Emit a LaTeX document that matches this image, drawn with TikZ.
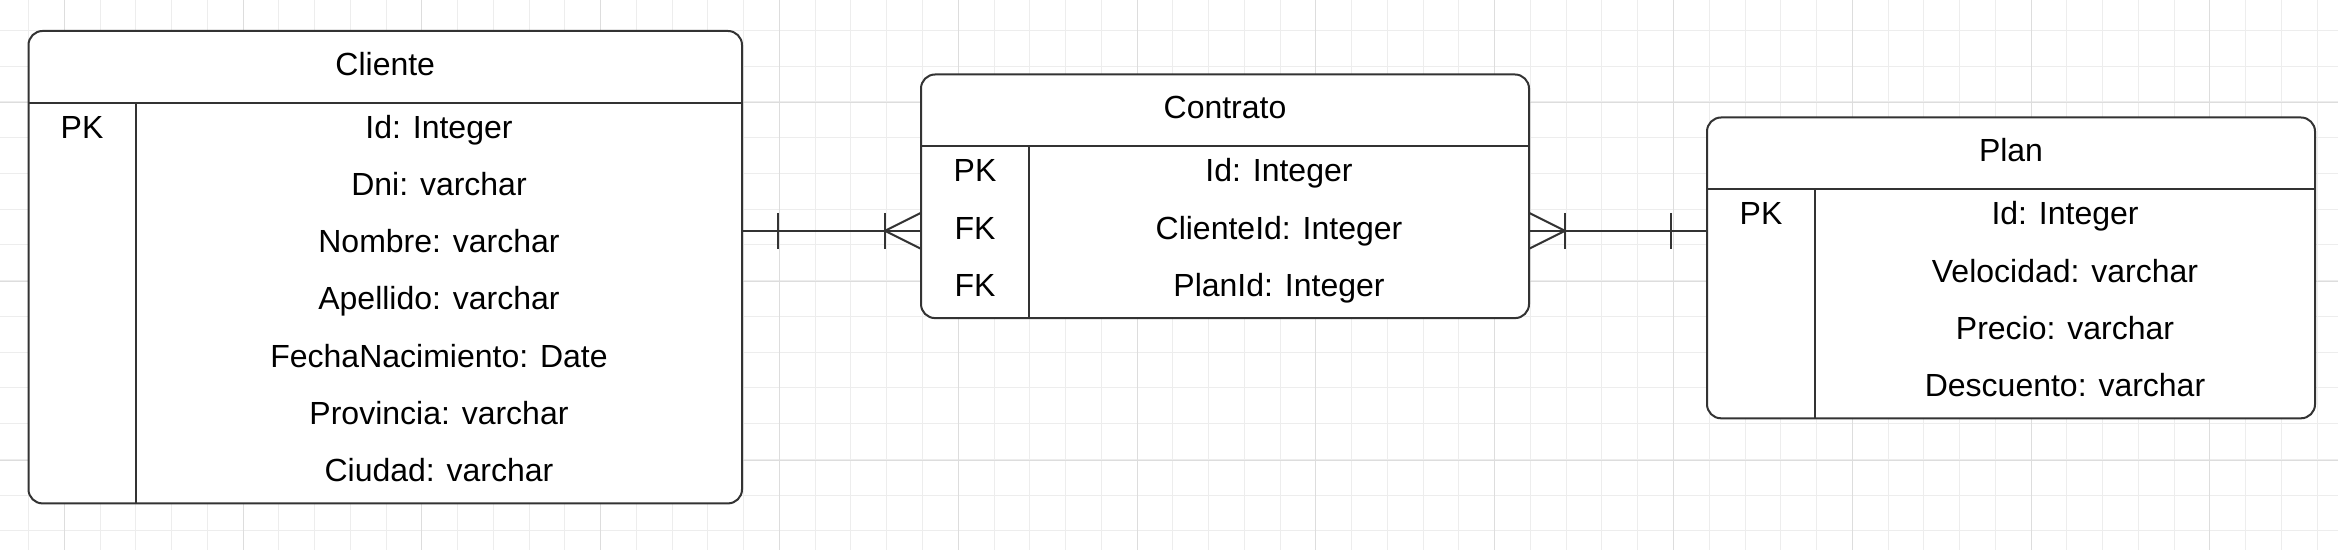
\documentclass[tikz,border=0pt]{standalone}
\usepackage{fontspec}
\setmainfont{Liberation Sans}
\usetikzlibrary{positioning}
\definecolor{linegray}{HTML}{333333}
\definecolor{gridminor}{HTML}{EDEDED}
\definecolor{gridmajor}{HTML}{DDDDDD}

\begin{document}
\begin{tikzpicture}[x=0.5pt,y=-0.5pt,
  font=\fontsize{16}{19}\selectfont,
  entity/.style={draw=linegray,line width=1pt,rounded corners=7pt,fill=white,inner sep=0pt,outer sep=0pt},
  title/.style={inner sep=0pt,text height=11.7pt,text depth=3.4pt},
  field/.style={inner sep=0pt,outer sep=0pt,minimum height=28.6pt,text height=11.7pt,text depth=3.4pt},
  rule/.style={draw=linegray,line width=1pt},
  relation/.style={draw=linegray,line width=1pt},
  minorline/.style={draw=gridminor,line width=0.5pt},
  majorline/.style={draw=gridmajor,line width=0.5pt}]

  \useasboundingbox (0,0) rectangle (2338,550);
  \fill[white] (0,0) rectangle (2338,550);

  % Background grid
  \foreach \gx in {0,...,64} \draw[minorline] ({28.5+35.76*\gx},0) -- ({28.5+35.76*\gx},550);
  \foreach \gy in {0,...,14} \draw[minorline] (0,{30.3+35.76*\gy}) -- (2338,{30.3+35.76*\gy});
  \foreach \gx in {0,...,12} \draw[majorline] ({64.26+178.8*\gx},0) -- ({64.26+178.8*\gx},550);
  \foreach \gy in {0,...,2} \draw[majorline] (0,{102.5+178.8*\gy}) -- (2338,{102.5+178.8*\gy});

  % Cliente table
  \node[entity,minimum width=356.75pt,minimum height=236.2pt] (cliente) at (385.25,267.2) {};
  \draw[rule] ([yshift=-36pt]cliente.north west) -- ([yshift=-36pt]cliente.north east);
  \draw[rule] ([xshift=53.6pt,yshift=-36pt]cliente.north west) -- ([xshift=53.6pt]cliente.south west);
  \node[title] (clientetitle) at ([yshift=-18pt]cliente.north) {Cliente};
  \node[field] (clientepk) at (82,130.1) {PK};
  \node[field] (clienteid) at (439,130.1) {Id: Integer};
  \node[field,below=0pt of clienteid] (clientedni) {Dni: varchar};
  \node[field,below=0pt of clientedni] (clientenombre) {Nombre: varchar};
  \node[field,below=0pt of clientenombre] (clienteapellido) {Apellido: varchar};
  \node[field,below=0pt of clienteapellido] (clientefecha) {FechaNacimiento: Date};
  \node[field,below=0pt of clientefecha] (clienteprovincia) {Provincia: varchar};
  \node[field,below=0pt of clienteprovincia] (clienteciudad) {Ciudad: varchar};

  % Contrato table
  \node[entity,minimum width=304pt,minimum height=121.8pt] (contrato) at (1225,196.3) {};
  \draw[rule] ([yshift=-36pt]contrato.north west) -- ([yshift=-36pt]contrato.north east);
  \draw[rule] ([xshift=54pt,yshift=-36pt]contrato.north west) -- ([xshift=54pt]contrato.south west);
  \node[title] (contratotitle) at ([yshift=-18pt]contrato.north) {Contrato};
  \node[field] (contratopk) at (975,173.6) {PK};
  \node[field,below=0pt of contratopk] (contratofkcliente) {FK};
  \node[field,below=0pt of contratofkcliente] (contratofkplan) {FK};
  \node[field] (contratoid) at (1279,173.6) {Id: Integer};
  \node[field,below=0pt of contratoid] (contratoclienteid) {ClienteId: Integer};
  \node[field,below=0pt of contratoclienteid] (contratoplanid) {PlanId: Integer};

  % Plan table
  \node[entity,minimum width=304pt,minimum height=150.4pt] (plan) at (2011,267.9) {};
  \draw[rule] ([yshift=-36pt]plan.north west) -- ([yshift=-36pt]plan.north east);
  \draw[rule] ([xshift=54pt,yshift=-36pt]plan.north west) -- ([xshift=54pt]plan.south west);
  \node[title] (plantitle) at ([yshift=-18pt]plan.north) {Plan};
  \node[field] (planpk) at (1761,216.6) {PK};
  \node[field] (planid) at (2065,216.6) {Id: Integer};
  \node[field,below=0pt of planid] (planvelocidad) {Velocidad: varchar};
  \node[field,below=0pt of planvelocidad] (planprecio) {Precio: varchar};
  \node[field,below=0pt of planprecio] (plandescuento) {Descuento: varchar};

  % Relations: one Cliente to many Contrato, many Contrato to one Plan
  \coordinate (clientelink) at (cliente.east |- contratoclienteid);
  \coordinate (contratoleft) at (contrato.west |- contratoclienteid);
  \coordinate (contratoright) at (contrato.east |- contratoclienteid);
  \coordinate (planlink) at (plan.west |- contratoclienteid);

  \draw[relation] (clientelink) -- (contratoleft);
  \draw[relation] ([xshift=18pt,yshift=9pt]clientelink) -- ([xshift=18pt,yshift=-9pt]clientelink);
  \draw[relation] ([yshift=9pt]contratoleft) -- ([xshift=-18pt]contratoleft) -- ([yshift=-9pt]contratoleft);
  \draw[relation] ([xshift=-18pt,yshift=9pt]contratoleft) -- ([xshift=-18pt,yshift=-9pt]contratoleft);

  \draw[relation] (contratoright) -- (planlink);
  \draw[relation] ([yshift=9pt]contratoright) -- ([xshift=18pt]contratoright) -- ([yshift=-9pt]contratoright);
  \draw[relation] ([xshift=18pt,yshift=9pt]contratoright) -- ([xshift=18pt,yshift=-9pt]contratoright);
  \draw[relation] ([xshift=-18pt,yshift=9pt]planlink) -- ([xshift=-18pt,yshift=-9pt]planlink);
\end{tikzpicture}
\end{document}
